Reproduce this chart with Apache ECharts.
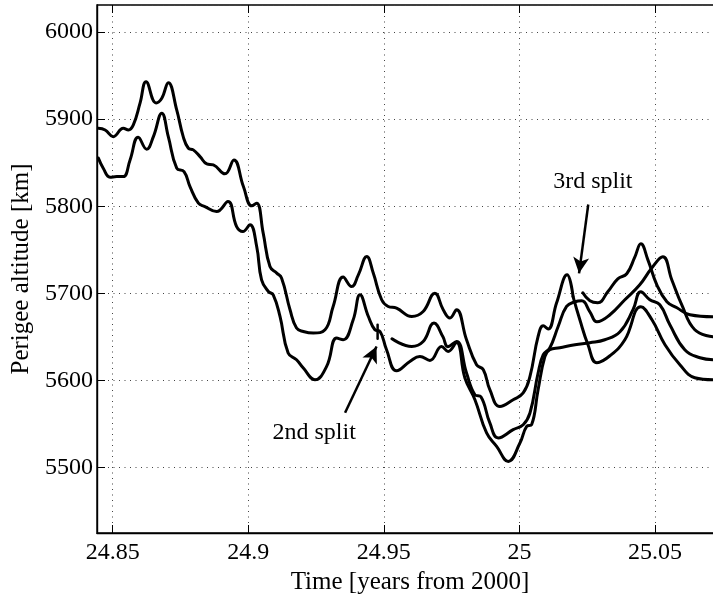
<!DOCTYPE html>
<html>
<head>
<meta charset="utf-8">
<script src="https://cdn.jsdelivr.net/npm/echarts@6/dist/echarts.min.js"></script>
<style>
  html, body { margin: 0; padding: 0; background: #fff; }
  #chart { width: 713px; height: 594px; }
</style>
</head>
<body>
<div id="chart"></div>
<script>
// Perigee altitude of the tracked fragments [km] versus time [years from 2000]

// Main fragment (upper branch), until the 3rd split
const upperTime = [24.8447, 24.8472, 24.8502, 24.8539, 24.8558, 24.8576, 24.8601, 24.8623, 24.8660, 24.8681,
  24.8705, 24.8736, 24.8760, 24.8779, 24.8797, 24.8822, 24.8847, 24.8871, 24.8914, 24.8947,
  24.8982, 24.9013, 24.9031, 24.9055, 24.9080, 24.9105, 24.9123, 24.9154, 24.9178, 24.9203,
  24.9240, 24.9283, 24.9313, 24.9350, 24.9381, 24.9406, 24.9437, 24.9461, 24.9492, 24.9516,
  24.9547, 24.9603, 24.9645, 24.9688, 24.9719, 24.9744, 24.9768, 24.9805, 24.9842, 24.9867,
  24.9891, 24.9928, 24.9977, 25.0014, 25.0039, 25.0069, 25.0088, 25.0106, 25.0137, 25.0176,
  25.0198];
const upperAlt = [5889.6, 5887.6, 5879.9, 5889.6, 5887.6, 5893.4, 5918.6, 5943.0, 5918.6, 5924.0,
  5941.9, 5910.6, 5879.9, 5866.6, 5864.7, 5857.0, 5848.6, 5847.5, 5837.2, 5853.2,
  5822.6, 5800.5, 5803.6, 5769.2, 5730.8, 5723.3, 5717.5, 5681.2, 5660.2, 5656.3,
  5654.5, 5658.3, 5685.0, 5718.7, 5707.9, 5721.3, 5742.3, 5723.3, 5692.7, 5685.0,
  5683.1, 5673.5, 5679.2, 5700.3, 5681.2, 5671.7, 5681.2, 5646.8, 5618.1, 5612.4,
  5589.5, 5570.3, 5578.0, 5585.7, 5604.7, 5650.6, 5662.8, 5659.1, 5688.9, 5721.3,
  5696.4];

// Second fragment (lower branch), over the whole span
const lowerTime = [24.8447, 24.8465, 24.8490, 24.8515, 24.8539, 24.8564, 24.8594, 24.8625, 24.8650, 24.8681,
  24.8705, 24.8736, 24.8763, 24.8785, 24.8816, 24.8840, 24.8883, 24.8925, 24.8957, 24.8980,
  24.9006, 24.9031, 24.9049, 24.9074, 24.9092, 24.9117, 24.9147, 24.9178, 24.9203, 24.9246,
  24.9289, 24.9326, 24.9350, 24.9387, 24.9412, 24.9443, 24.9467, 24.9486, 24.9510, 24.9547,
  24.9596, 24.9633, 24.9670, 24.9713, 24.9737, 24.9768, 24.9799, 24.9836, 24.9879, 24.9916,
  24.9959, 25.0002, 25.0027, 25.0045, 25.0069, 25.0094, 25.0112, 25.0149, 25.0205, 25.0260,
  25.0315, 25.0371, 25.0419, 25.0448, 25.0481, 25.0518, 25.0555, 25.0610, 25.0666, 25.0714];
const lowerAlt = [5855.2, 5843.7, 5833.4, 5834.1, 5834.1, 5853.2, 5879.2, 5865.5, 5879.9, 5906.8,
  5879.9, 5843.7, 5839.8, 5822.6, 5803.6, 5799.7, 5793.9, 5805.4, 5776.7, 5771.0,
  5778.7, 5753.8, 5715.6, 5702.2, 5698.4, 5673.5, 5631.5, 5623.9, 5614.3, 5600.9,
  5616.2, 5648.7, 5646.8, 5669.7, 5698.4, 5673.5, 5658.3, 5656.3, 5635.3, 5611.2,
  5621.9, 5627.6, 5623.1, 5639.1, 5633.4, 5643.7, 5602.9, 5578.0, 5539.8, 5524.4,
  5507.2, 5528.3, 5547.4, 5549.3, 5589.5, 5627.6, 5635.3, 5637.6, 5641.1, 5643.4,
  5646.8, 5656.0, 5681.2, 5701.8, 5692.7, 5686.9, 5664.0, 5635.3, 5626.1, 5623.9];

// Fragment released at the 2nd split
const secondTime = [24.9530, 24.9603, 24.9645, 24.9685, 24.9718, 24.9736, 24.9768, 24.9805, 24.9836, 24.9858,
  24.9891, 24.9922, 24.9977, 25.0014, 25.0039, 25.0069, 25.0088, 25.0112, 25.0143, 25.0174,
  25.0205, 25.0230, 25.0260, 25.0286, 25.0334, 25.0389, 25.0444, 25.0489, 25.0529, 25.0562,
  25.0599, 25.0647, 25.0714];
const secondAlt = [5647.9, 5639.1, 5644.8, 5665.9, 5650.2, 5638.8, 5644.8, 5608.6, 5583.7, 5581.4,
  5551.3, 5534.1, 5543.6, 5549.3, 5562.7, 5608.6, 5629.6, 5637.3, 5662.0, 5685.0,
  5690.4, 5691.5, 5678.9, 5667.4, 5675.5, 5692.7, 5709.9, 5729.4, 5742.0, 5715.6,
  5686.9, 5658.3, 5650.2];

// Fragments after the 3rd split
const thirdTime = [25.0234, 25.0260, 25.0289, 25.0326, 25.0363, 25.0396, 25.0426, 25.0448, 25.0474, 25.0507,
  25.0544, 25.0581, 25.0629, 25.0714];
const thirdAlt = [5700.7, 5691.5, 5689.2, 5701.8, 5716.7, 5722.5, 5742.0, 5756.9, 5738.5, 5709.9,
  5690.4, 5683.5, 5675.5, 5673.2];

const tailTime = [25.0198, 25.0223, 25.0253, 25.0286, 25.0334, 25.0389, 25.0448, 25.0489, 25.0537, 25.0592,
  25.0647, 25.0714];
const tailAlt = [5696.4, 5669.7, 5641.1, 5620.4, 5628.4, 5646.8, 5684.6, 5669.7, 5641.1, 5618.1,
  5603.2, 5600.9];

// Short marker where the lower branch splits
const splitMarkTime = [24.9477, 24.9477];
const splitMarkAlt = [5664, 5648];

// Axis ranges and labelled ticks
const xRange = [24.8442, 25.0751];
const yRange = [5425, 6031];
const xTicks = [24.85, 24.9, 24.95, 25, 25.05];
const yTicks = [5500, 5600, 5700, 5800, 5900, 6000];

// Annotations: text centre, arrow tail, arrow head
const splitLabels = ['2nd split', '3rd split'];
const splitTextPos = [[24.9243, 5540], [25.0271, 5828]];
const splitArrowFrom = [[24.9357, 5563], [25.0254, 5802]];
const splitArrowTo = [[24.9473, 5639], [25.0220, 5723]];

const zip = (t, v) => t.map((x, i) => [x, v[i]]);
const near = (v, list, tol) => list.some(t => Math.abs(t - v) < tol);

const FONT = '"Liberation Serif", "Times New Roman", serif';
const INK = '#000';

const lineSeries = (name, t, v, smooth = 0.45, width = 3) => ({
  name, type: 'line', data: zip(t, v), smooth, showSymbol: false,
  lineStyle: { color: INK, width, join: 'round', cap: 'round' }, z: 3, animation: false
});

const chart = echarts.init(document.getElementById('chart'), null, { renderer: 'canvas' });

const gridLine = { show: true, lineStyle: { color: '#444', width: 1, type: [1, 4.5] } };
const innerTick = { show: true, inside: true, length: 8, lineStyle: { color: INK, width: 1 } };

chart.setOption({
  animation: false,
  backgroundColor: '#fff',
  grid: {
    left: 97, right: -10, top: 5, bottom: 61,
    show: true, borderColor: INK, borderWidth: 1.4,
    containLabel: false, outerBoundsMode: 'none'
  },
  xAxis: [{
    type: 'value', min: xRange[0], max: xRange[1], splitNumber: 5,
    name: 'Time [years from 2000]', nameLocation: 'middle', nameGap: 33,
    nameTextStyle: { fontFamily: FONT, fontSize: 25, color: INK },
    axisLine: { show: true, onZero: false, lineStyle: { color: INK, width: 1.4 } },
    axisTick: innerTick,
    axisLabel: {
      fontFamily: FONT, fontSize: 24, color: INK, margin: 8,
      showMinLabel: false, showMaxLabel: false,
      formatter: v => near(v, xTicks, 1e-6) ? String(+v.toFixed(2)) : ''
    },
    splitLine: gridLine
  }, {
    type: 'value', position: 'top', min: xRange[0], max: xRange[1], splitNumber: 5,
    axisLine: { show: false },
    axisTick: innerTick,
    axisLabel: { show: false }, splitLine: { show: false }
  }],
  yAxis: {
    type: 'value', min: yRange[0], max: yRange[1], splitNumber: 6,
    name: 'Perigee altitude [km]', nameLocation: 'middle', nameGap: 62, nameRotate: 90,
    nameTextStyle: { fontFamily: FONT, fontSize: 25, color: INK },
    axisLine: { show: true, lineStyle: { color: INK, width: 1.4 } },
    axisTick: innerTick,
    axisLabel: {
      fontFamily: FONT, fontSize: 24, color: INK, margin: 4,
      showMinLabel: false, showMaxLabel: false,
      formatter: v => near(v, yTicks, 1e-6) ? String(Math.round(v)) : ''
    },
    splitLine: gridLine
  },
  series: [
    lineSeries('upper', upperTime, upperAlt),
    lineSeries('lower', lowerTime, lowerAlt),
    lineSeries('second', secondTime, secondAlt),
    lineSeries('third', thirdTime, thirdAlt),
    lineSeries('tail', tailTime, tailAlt),
    lineSeries('splitMark', splitMarkTime, splitMarkAlt, false, 2.5),
    {
      type: 'line', data: [], silent: true,
      markLine: {
        silent: true, animation: false, symbol: ['none', 'arrow'], symbolSize: [12, 16],
        lineStyle: { color: INK, width: 2.5, type: 'solid' },
        label: { show: false },
        data: splitArrowFrom.map((p, i) => [{ coord: p }, { coord: splitArrowTo[i] }])
      }
    }
  ]
});

// Split annotations placed through the axis scales
chart.setOption({
  graphic: splitLabels.map((txt, i) => {
    const [px, py] = chart.convertToPixel({ gridIndex: 0 }, splitTextPos[i]);
    return {
      type: 'text', x: px, y: py, silent: true, z: 10,
      style: { text: txt, fontFamily: FONT, fontSize: 24, fill: INK, align: 'center', verticalAlign: 'middle' }
    };
  })
});
</script>
</body>
</html>
